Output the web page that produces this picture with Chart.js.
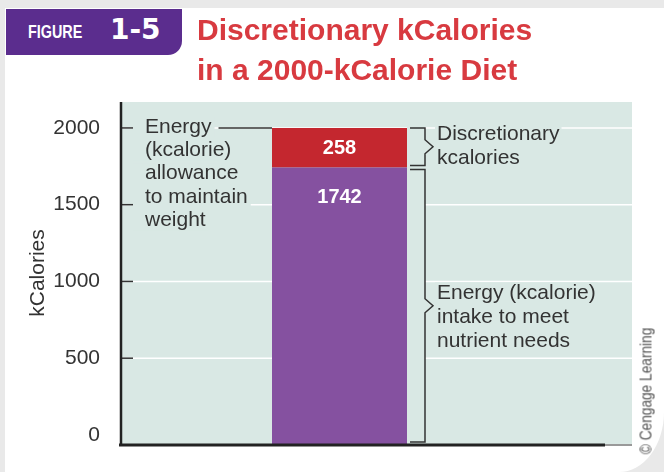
<!DOCTYPE html>
<html>
<head>
<meta charset="utf-8">
<script src="https://cdn.jsdelivr.net/npm/chart.js@4.4.1/dist/chart.umd.min.js"></script>
<style>
  html, body { margin:0; padding:0; width:664px; height:472px; overflow:hidden; background:#e9e9e9; }
  #page { position:absolute; left:5px; top:8px; width:659px; height:464px; background:#ffffff;
          border-bottom-right-radius:45px 60px; }
  #c { position:absolute; left:0; top:0; }
  #figbox { position:absolute; left:6px; top:9px; width:176px; height:46px; background:#5b2d8e;
            border-bottom-right-radius:14px; }
  #figbox .fig { position:absolute; left:22px; top:15px; font:bold 17.5px "Liberation Sans", Arial, sans-serif;
                 line-height:1; color:#ffffff; transform:scaleX(0.82); transform-origin:0 50%; }
  #figbox .num { position:absolute; left:104px; top:7px; font:bold 28px "DejaVu Sans", sans-serif;
                 line-height:1; color:#ffffff; }
  #title { position:absolute; left:197px; top:10px; font:bold 30px "Liberation Sans", Arial, sans-serif;
           line-height:40px; color:#d83a40; white-space:nowrap; }
  #copy { position:absolute; left:646px; top:391px; transform:translate(-50%,-50%) rotate(-90deg) scaleX(0.83);
          font:16.5px "Liberation Sans", Arial, sans-serif; color:#555; white-space:nowrap; }
</style>
</head>
<body>
<div id="page"></div>
<canvas id="c" width="664" height="472"></canvas>
<div id="figbox"><span class="fig">FIGURE</span><span class="num">1-5</span></div>
<div id="title">Discretionary kCalories<br>in a 2000-kCalorie Diet</div>
<div id="copy">© Cengage Learning</div>
<script>
// ---- data ----
const categories = ['2000-kCalorie diet'];
const nutrientNeedsKcal = [1742];
const discretionaryKcal = [258];
const yTickValues = [0, 500, 1000, 1500, 2000];
const axisTitle = 'kCalories';
const allowanceNote = ['Energy', '(kcalorie)', 'allowance', 'to maintain', 'weight'];
const discretionaryNote = ['Discretionary', 'kcalories'];
const needsNote = ['Energy (kcalorie)', 'intake to meet', 'nutrient needs'];

// ---- style ----
const TEAL = '#d9e8e4';
const INK = '#333333';
const FONT = 'Liberation Sans';
const Y_MIN = -59, Y_MAX = 2169;

const decor = {
  id: 'decor',
  beforeDatasetsDraw(chart) {
    const { ctx, chartArea: a, scales: { y } } = chart;
    const right = a.right + 73;
    ctx.save();
    ctx.fillStyle = TEAL;
    ctx.fillRect(a.left, a.top, right - a.left, a.bottom - a.top);
    ctx.strokeStyle = '#ffffff';
    ctx.lineWidth = 1.5;
    yTickValues.forEach(v => {
      if (v <= 0) return;
      const py = y.getPixelForValue(v);
      ctx.beginPath(); ctx.moveTo(a.left, py); ctx.lineTo(right, py); ctx.stroke();
    });
    ctx.restore();
  },
  afterDatasetsDraw(chart) {
    const { ctx, chartArea: a, scales: { y } } = chart;
    const right = a.right + 73;
    const low = chart.getDatasetMeta(0).data[0];
    const top = chart.getDatasetMeta(1).data[0];
    const barL = low.x - low.width / 2, barR = low.x + low.width / 2;
    const brX = barR + 18;
    ctx.save();
    // no gridlines between bar and brackets
    ctx.fillStyle = TEAL;
    ctx.fillRect(barR, a.top, brX - barR, a.bottom - a.top);

    // tick marks (inside plot)
    ctx.strokeStyle = INK; ctx.lineWidth = 1.5;
    yTickValues.forEach(v => {
      if (v <= 0) return;
      const py = y.getPixelForValue(v);
      ctx.beginPath(); ctx.moveTo(a.left, py); ctx.lineTo(a.left + 13, py); ctx.stroke();
    });

    // axes
    ctx.strokeStyle = '#222'; ctx.lineWidth = 2.5;
    ctx.beginPath(); ctx.moveTo(a.left + 1, a.top); ctx.lineTo(a.left + 1, a.bottom + 2); ctx.stroke();
    ctx.lineWidth = 3;
    ctx.beginPath(); ctx.moveTo(a.left - 1, a.bottom + 1); ctx.lineTo(a.right + 46, a.bottom + 1); ctx.stroke();
    ctx.strokeStyle = '#777'; ctx.lineWidth = 1.5;
    ctx.beginPath(); ctx.moveTo(a.right + 46, a.bottom + 1); ctx.lineTo(right, a.bottom + 1); ctx.stroke();

    // left note
    ctx.font = `21px "${FONT}"`;
    ctx.textBaseline = 'middle'; ctx.textAlign = 'left';
    const lx = a.left + 25;
    const y2000 = top.y;
    let firstEnd = lx;
    allowanceNote.forEach((t, i) => {
      const cy = y2000 - 1 + i * 23.3;
      const w = ctx.measureText(t).width;
      if (i === 0) firstEnd = lx + w;
      ctx.fillStyle = TEAL;
      ctx.fillRect(a.left + 13, cy - 10.5, lx - a.left - 13 + w + 3, 21);
      ctx.fillStyle = INK;
      ctx.fillText(t, lx, cy);
    });
    ctx.strokeStyle = INK; ctx.lineWidth = 1.5;
    ctx.beginPath(); ctx.moveTo(firstEnd + 7, y2000); ctx.lineTo(barL, y2000); ctx.stroke();

    // braces
    const brace = (y0, y1) => {
      const mid = (y0 + y1) / 2;
      ctx.beginPath();
      ctx.moveTo(barR + 3, y0); ctx.lineTo(brX, y0); ctx.lineTo(brX, mid - 7);
      ctx.lineTo(brX + 8, mid); ctx.lineTo(brX, mid + 7); ctx.lineTo(brX, y1); ctx.lineTo(barR + 3, y1);
      ctx.stroke();
      return mid;
    };
    ctx.strokeStyle = INK; ctx.lineWidth = 1.5;
    const m1 = brace(top.y, top.base - 2);
    const m2 = brace(low.y + 2, a.bottom - 2);
    const rx = brX + 12;
    const noteBlock = (lines, mid) => {
      lines.forEach((t, i) => {
        const cy = mid - 13 + i * 24;
        const w = ctx.measureText(t).width;
        ctx.fillStyle = TEAL;
        ctx.fillRect(rx - 2, cy - 10.5, w + 4, 21);
        ctx.fillStyle = INK;
        ctx.fillText(t, rx, cy);
      });
    };
    noteBlock(discretionaryNote, m1);
    noteBlock(needsNote, m2);

    // value labels
    ctx.font = `bold 20px "${FONT}"`;
    ctx.fillStyle = '#ffffff'; ctx.textAlign = 'center';
    ctx.fillText(String(discretionaryKcal[0]), top.x, (top.y + top.base) / 2 + 1);
    ctx.fillText(String(nutrientNeedsKcal[0]), low.x, low.y + 30);
    ctx.restore();
  }
};

new Chart(document.getElementById('c'), {
  type: 'bar',
  data: {
    labels: categories,
    datasets: [
      { label: 'Energy intake to meet nutrient needs', data: nutrientNeedsKcal, backgroundColor: '#8551a0',
        base: Y_MIN, barPercentage: 0.3075, categoryPercentage: 1, borderWidth: 0 },
      { label: 'Discretionary kcalories', data: discretionaryKcal, backgroundColor: '#c4272f',
        barPercentage: 0.3075, categoryPercentage: 1, borderWidth: 0 }
    ]
  },
  options: {
    responsive: false,
    animation: false,
    events: [],
    layout: { padding: { top: 102, bottom: 28, left: 0, right: 105 } },
    plugins: { legend: { display: false }, tooltip: { enabled: false } },
    scales: {
      x: { display: false, stacked: true },
      y: {
        stacked: true, min: Y_MIN, max: Y_MAX,
        afterFit(s) { s.width = 120; },
        afterBuildTicks(s) { s.ticks = yTickValues.map(v => ({ value: v })); },
        grid: { display: false },
        border: { display: false },
        ticks: { padding: 12, color: INK, font: { family: FONT, size: 21 }, callback: v => String(v) },
        title: { display: true, text: axisTitle, color: INK, font: { family: FONT, size: 21 },
                 padding: { top: 26, bottom: 0 } }
      }
    }
  },
  plugins: [decor]
});
</script>
</body>
</html>
